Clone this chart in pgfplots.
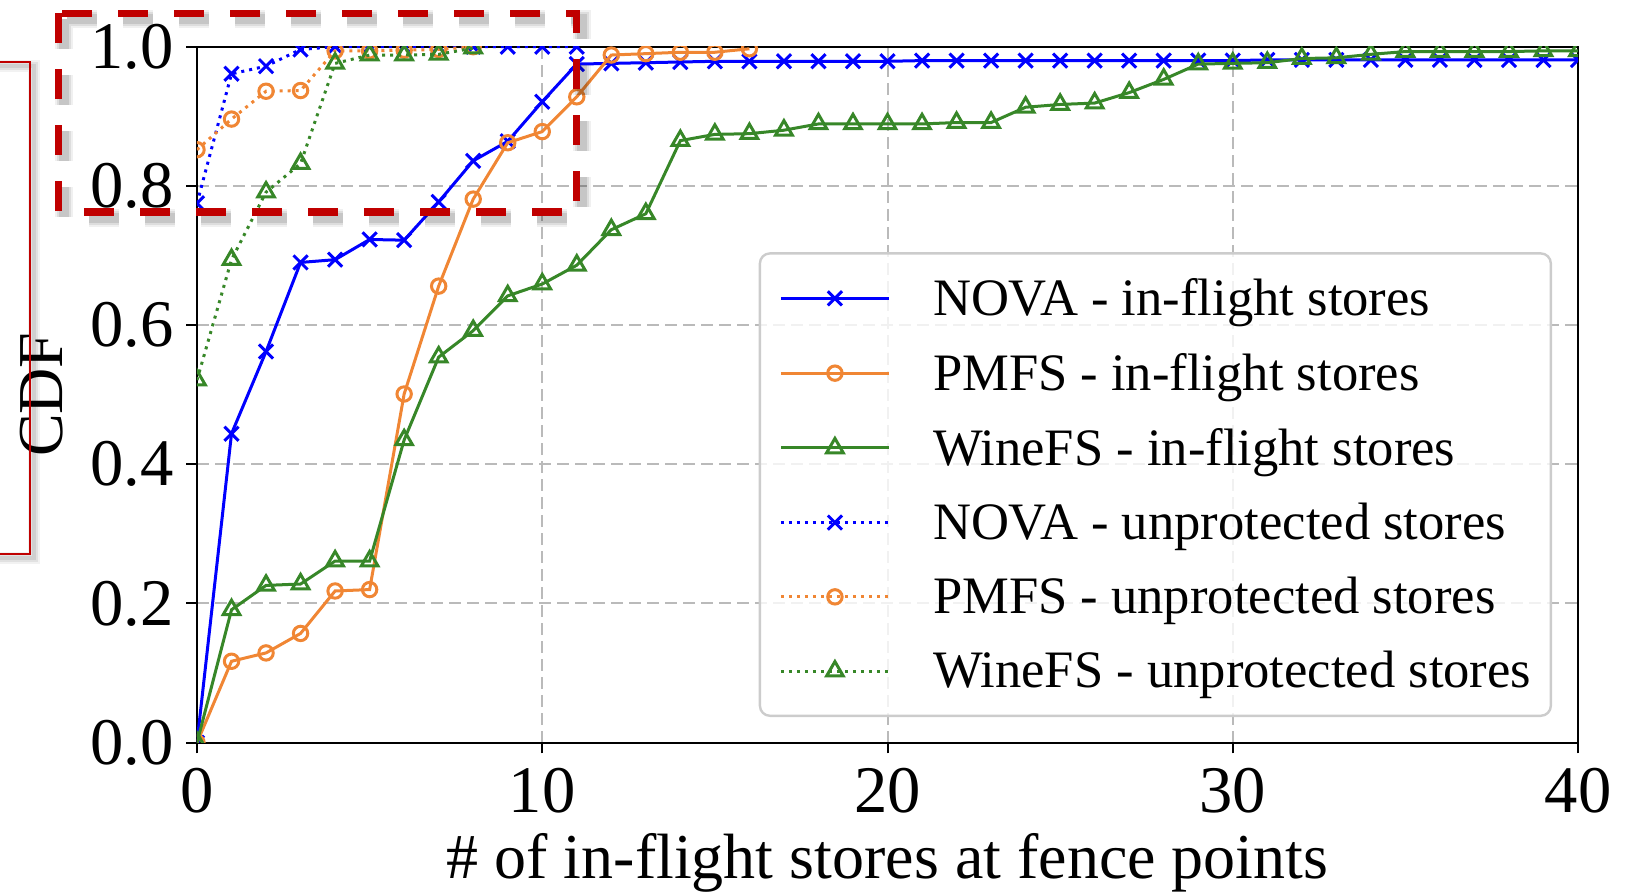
\documentclass[border=0pt]{standalone}
\usepackage{fontspec}
\setmainfont{Liberation Serif}
\usepackage{pgfplots}
\pgfplotsset{compat=1.18}
\definecolor{cblue}{RGB}{0,0,255}
\definecolor{corange}{RGB}{240,134,52}
\definecolor{cgreen}{RGB}{55,135,40}
\definecolor{cred}{RGB}{192,0,0}
\begin{document}
\begin{tikzpicture}
\begin{axis}[
    scale only axis,
    width=690.5pt, height=348pt,
    xmin=0, xmax=40, ymin=0, ymax=1,
    xtick={0,10,20,30,40},
    ytick={0,0.2,0.4,0.6,0.8,1.0},
    /pgf/number format/assume math mode=true,
    y tick label style={/pgf/number format/.cd,fixed,fixed zerofill,precision=1,/tikz/.cd},
    tick label style={font=\fontsize{33.3}{40}\selectfont},
    xticklabel style={anchor=base, inner sep=0pt, yshift=-29.3pt},
    yticklabel style={anchor=east, inner sep=0pt, xshift=-6.2pt},
    xtick pos=bottom, ytick pos=left,
    tick align=outside,
    major tick length=5.35pt,
    tick style={black, line width=1pt},
    axis line style={line width=1pt},
    grid=major,
    grid style={dash pattern=on 6pt off 3pt, color=black!27, line width=1pt},
    xlabel={\# of in-flight stores at fence points},
    ylabel={CDF},
    label style={font=\fontsize{32}{38}\selectfont},
    xlabel style={at={([yshift=-67.7pt]axis description cs:0.5,0)}, anchor=base},
    ylabel style={at={([xshift=-77.5pt]axis description cs:0,0.5)}, anchor=center},
    clip marker paths=true,
    every axis plot/.append style={line width=1.5pt},
    legend image code/.code={\draw[mark repeat=2,mark phase=2] plot coordinates {(0pt,0pt) (27pt,0pt) (54pt,0pt)};},
    legend image post style={sharp corners},
    legend cell align=left,
    legend style={
        at={(rel axis cs:1,0)}, anchor=south east, xshift=-13pt, yshift=12.85pt,
        draw=black!20, line width=1.2pt, rounded corners=5pt,
        fill=white, fill opacity=0.8, text opacity=1,
        font=\fontsize{26.3}{31}\selectfont,
        inner xsep=9.75pt, inner ysep=10.45pt,
        nodes={inner xsep=0pt, inner ysep=2pt},
        column sep=21.3pt, row sep=13.4pt,
    },
]
% NOVA - in-flight stores
\addplot[cblue, mark=x, mark size=5pt, mark options={solid}] coordinates {
(0,0) (1,0.444) (2,0.562) (3,0.690) (4,0.694) (5,0.723) (6,0.722) (7,0.777)
(8,0.836) (9,0.864) (10,0.921) (11,0.975) (12,0.976) (13,0.977) (14,0.978)
(15,0.979) (16,0.979) (17,0.979) (18,0.979) (19,0.979) (20,0.979) (21,0.980)
(22,0.980) (23,0.980) (24,0.980) (25,0.980) (26,0.980) (27,0.980) (28,0.980)
(29,0.980) (30,0.980) (31,0.981) (32,0.981) (33,0.981) (34,0.981) (35,0.981)
(36,0.981) (37,0.981) (38,0.981) (39,0.981) (40,0.981)
};
\addlegendentry{NOVA - in-flight stores}
% PMFS - in-flight stores
\addplot[corange, mark=o, mark size=3.6pt, mark options={solid}] coordinates {
(0,0) (1,0.117) (2,0.129) (3,0.157) (4,0.218) (5,0.220) (6,0.501) (7,0.656)
(8,0.781) (9,0.862) (10,0.878) (11,0.928) (12,0.988) (13,0.990) (14,0.992)
(15,0.992) (16,0.997)
};
\addlegendentry{PMFS - in-flight stores}
% WineFS - in-flight stores
\addplot[cgreen, mark=triangle, mark size=4.8pt, mark options={solid}] coordinates {
(0,0) (1,0.191) (2,0.226) (3,0.228) (4,0.261) (5,0.261) (6,0.435) (7,0.554)
(8,0.592) (9,0.642) (10,0.659) (11,0.686) (12,0.737) (13,0.760) (14,0.865)
(15,0.874) (16,0.875) (17,0.880) (18,0.889) (19,0.889) (20,0.889) (21,0.889)
(22,0.891) (23,0.891) (24,0.913) (25,0.917) (26,0.919) (27,0.934) (28,0.953)
(29,0.975) (30,0.976) (31,0.977) (32,0.983) (33,0.984) (34,0.989) (35,0.993)
(36,0.993) (37,0.993) (38,0.993) (39,0.994) (40,0.994)
};
\addlegendentry{WineFS - in-flight stores}
% NOVA - unprotected stores
\addplot[cblue, dash pattern=on 1.5pt off 2.5pt, mark=x, mark size=5pt, mark options={solid}] coordinates {
(0,0.775) (1,0.961) (2,0.972) (3,0.996) (4,1.0) (5,1.0) (6,1.0) (7,1.0)
(8,1.0) (9,1.0) (10,1.0) (11,1.0)
};
\addlegendentry{NOVA - unprotected stores}
% PMFS - unprotected stores
\addplot[corange, dash pattern=on 1.5pt off 2.5pt, mark=o, mark size=3.6pt, mark options={solid}] coordinates {
(0,0.852) (1,0.896) (2,0.936) (3,0.937) (4,0.994) (5,0.994) (6,0.995)
(7,0.996) (8,1.0)
};
\addlegendentry{PMFS - unprotected stores}
% WineFS - unprotected stores
\addplot[cgreen, dash pattern=on 1.5pt off 2.5pt, mark=triangle, mark size=4.8pt, mark options={solid}] coordinates {
(0,0.521) (1,0.694) (2,0.791) (3,0.832) (4,0.976) (5,0.988) (6,0.988)
(7,0.989) (8,0.998)
};
\addlegendentry{WineFS - unprotected stores}

\coordinate (ra) at (axis cs:-4,1.048);
\coordinate (rb) at (axis cs:-4,0.7625);
\coordinate (rc) at (axis cs:11,0.7625);
\coordinate (rd) at (axis cs:11,1.048);
\coordinate (ta) at (axis cs:-7,0.978);
\coordinate (tb) at (axis cs:-4.84,0.271);
\coordinate (bbl) at ([xshift=-98.5pt,yshift=-74.65pt]rel axis cs:0,0);
\coordinate (btr) at ([xshift=28pt,yshift=23.35pt]rel axis cs:1,1);
\end{axis}

% thin red frame at the left, with a soft shadow
\foreach \w/\o in {6pt/0.05,4pt/0.07,2pt/0.08}{
  \draw[black, opacity=\o, line width=\w]
    ([xshift=2pt,yshift=-2pt]ta) rectangle ([xshift=2pt,yshift=-2pt]tb);
}
\draw[cred, line width=0.75pt] (ta) rectangle (tb);

% dashed red highlight box, with a soft shadow
\foreach \w/\o in {9pt/0.06,7pt/0.08,5pt/0.1}{
  \draw[black, opacity=\o, line width=\w, dash pattern=on 15pt off 13pt]
    ([xshift=2.5pt,yshift=-3pt]ra) -- ([xshift=2.5pt,yshift=-3pt]rb)
    -- ([xshift=2.5pt,yshift=-3pt]rc) -- ([xshift=2.5pt,yshift=-3pt]rd)
    -- cycle;
}
\draw[cred, line width=3.6pt, dash pattern=on 15pt off 13pt]
  (ra) -- (rb) -- (rc) -- (rd) -- cycle;

\pgfresetboundingbox
\useasboundingbox (bbl) rectangle (btr);
\end{tikzpicture}
\end{document}
